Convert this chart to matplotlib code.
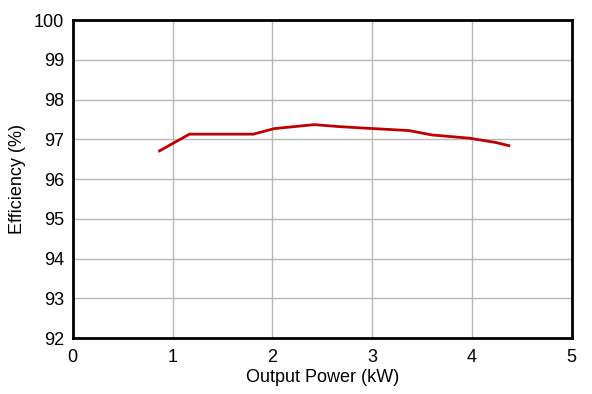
import matplotlib
matplotlib.use("Agg")
import matplotlib.pyplot as plt

# Efficiency curve
power_kw = [0.87, 1.17, 1.81, 2.02, 2.42, 2.67, 2.87, 3.37, 3.60, 3.97, 4.24, 4.37]
efficiency = [96.71, 97.13, 97.13, 97.27, 97.37, 97.32, 97.29, 97.22, 97.11, 97.03, 96.92, 96.84]

x_ticks = [0, 1, 2, 3, 4, 5]
y_ticks = [92, 93, 94, 95, 96, 97, 98, 99, 100]

plt.rcParams['font.family'] = ['Liberation Sans', 'DejaVu Sans']

fig = plt.figure(figsize=(5.92, 3.94), dpi=100)
ax = fig.add_axes([0.1228, 0.142, 0.843, 0.807])

ax.plot(power_kw, efficiency, color='#c00000', linewidth=2)

ax.set_xlim(0, 5)
ax.set_ylim(92, 100)
ax.set_xticks(x_ticks)
ax.set_yticks(y_ticks)
ax.grid(True, color='#b8b8b8', linewidth=1)
ax.set_axisbelow(True)
for s in ax.spines.values():
    s.set_linewidth(2)
    s.set_color('black')
ax.tick_params(length=0, labelsize=13)
ax.tick_params(axis='x', pad=8)
ax.tick_params(axis='y', pad=6)

ax.set_xlabel('Output Power (kW)', fontsize=13, labelpad=2)
ax.set_ylabel('Efficiency (%)', fontsize=13, labelpad=6)

fig.savefig('out.png', dpi=100)
